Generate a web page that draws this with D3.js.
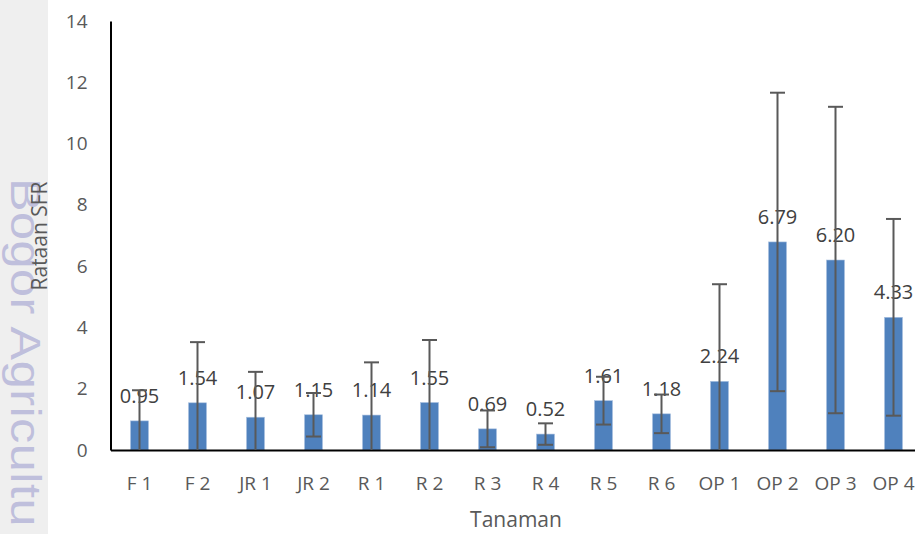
<!DOCTYPE html>
<html>
<head>
<meta charset="utf-8">
<script src="https://cdn.jsdelivr.net/npm/d3@7"></script>
<style>
  html, body { margin: 0; padding: 0; background: #ffffff; }
  svg { display: block; }
</style>
</head>
<body>
<svg id="chart" width="915" height="534"></svg>
<script>
const categories = ["F 1", "F 2", "JR 1", "JR 2", "R 1", "R 2", "R 3", "R 4", "R 5", "R 6", "OP 1", "OP 2", "OP 3", "OP 4"];
const means = [0.95, 1.54, 1.07, 1.15, 1.14, 1.55, 0.69, 0.52, 1.61, 1.18, 2.24, 6.79, 6.20, 4.33];
const errors = [1.0, 1.98, 1.48, 0.71, 1.72, 2.04, 0.60, 0.35, 0.78, 0.63, 3.17, 4.87, 5.0, 3.21];
const labels = ["0.95", "1.54", "1.07", "1.15", "1.14", "1.55", "0.69", "0.52", "1.61", "1.18", "2.24", "6.79", "6.20", "4.33"];
const yTicks = [0, 2, 4, 6, 8, 10, 12, 14];
const xTitle = "Tanaman";
const yTitle = "Rataan SFR";
const watermark = "Bogor Agricultu";

const data = categories.map((c, i) => ({ cat: c, v: means[i], e: errors[i], lab: labels[i] }));

const svg = d3.select("#chart");
const W = 915, H = 534;
const font = "'Open Sans', 'Noto Sans', sans-serif";
const textCol = "#595959";

const x = d3.scaleBand().domain(categories).range([110.5, 922.5]).paddingInner(0.69).paddingOuter(0.345);
const y = d3.scaleLinear().domain([0, 14]).range([450, 21]);

// left grey strip with watermark
svg.append("rect").attr("x", 0).attr("y", 0).attr("width", 48).attr("height", H).attr("fill", "#efefef");
svg.append("text")
  .attr("transform", "translate(11,178) rotate(90) scale(1.2,1)")
  .attr("font-family", "'Liberation Sans', Arial, sans-serif")
  .attr("font-size", 42)
  .attr("letter-spacing", 0.4)
  .attr("fill", "#bfbfdc")
  .text(watermark);

// y axis
const yAxis = svg.append("g").attr("transform", "translate(110.5,0)")
  .call(d3.axisLeft(y).tickValues(yTicks).tickSize(0).tickSizeOuter(0).tickPadding(23).tickFormat(d3.format("d")));
yAxis.select(".domain").attr("stroke", "#000").attr("stroke-width", 2);
yAxis.selectAll("text").attr("font-family", font).attr("font-size", 19).attr("fill", textCol);

// bars
svg.append("g").selectAll("rect").data(data).join("rect")
  .attr("x", d => x(d.cat))
  .attr("y", d => y(d.v))
  .attr("width", x.bandwidth())
  .attr("height", d => y(0) - y(d.v))
  .attr("fill", "#4f81bd")
  .attr("stroke", "#a9c0df")
  .attr("stroke-width", 0.6);

// x axis
const xAxis = svg.append("g").attr("transform", "translate(0,450)")
  .call(d3.axisBottom(x).tickSize(0).tickSizeOuter(0).tickPadding(27));
xAxis.select(".domain").attr("stroke", "#000").attr("stroke-width", 2);
xAxis.selectAll("text").attr("font-family", font).attr("font-size", 19).attr("fill", textCol);

// data labels
svg.append("g").selectAll("text").data(data).join("text")
  .attr("x", d => x(d.cat) + x.bandwidth() / 2)
  .attr("y", d => y(d.v) - 18)
  .attr("text-anchor", "middle")
  .attr("font-family", font)
  .attr("font-size", 20)
  .attr("fill", "#404040")
  .text(d => d.lab);

// error bars
const eg = svg.append("g").attr("stroke", "#595959").attr("stroke-width", 2);
data.forEach(d => {
  const cx = x(d.cat) + x.bandwidth() / 2;
  const lo = d.v - d.e, hi = d.v + d.e;
  eg.append("line").attr("x1", cx).attr("x2", cx).attr("y1", y(Math.max(0, lo))).attr("y2", y(hi));
  eg.append("line").attr("x1", cx - 7.5).attr("x2", cx + 7.5).attr("y1", y(hi)).attr("y2", y(hi));
  if (lo > 0) {
    eg.append("line").attr("x1", cx - 7.5).attr("x2", cx + 7.5).attr("y1", y(lo)).attr("y2", y(lo));
  }
});

// axis titles
svg.append("text")
  .attr("x", 516).attr("y", 527)
  .attr("text-anchor", "middle")
  .attr("font-family", font).attr("font-size", 21).attr("fill", textCol)
  .text(xTitle);
svg.append("text")
  .attr("transform", "translate(47,236) rotate(-90)")
  .attr("text-anchor", "middle")
  .attr("font-family", font).attr("font-size", 21).attr("fill", textCol)
  .text(yTitle);
</script>
</body>
</html>
